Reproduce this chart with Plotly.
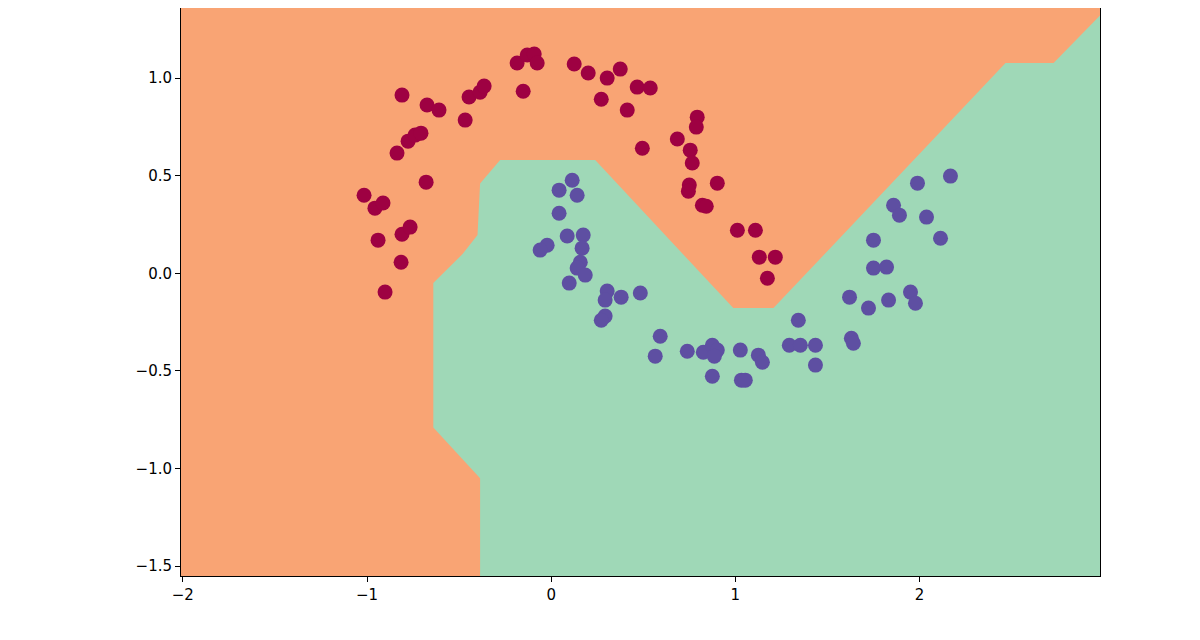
import plotly.graph_objects as go

# decision region (class 1) outline, data coordinates
region_x = [-0.386, -0.386, -0.64, -0.64, -0.48, -0.40, -0.386, -0.277, 0.239, 0.989, 1.207, 2.467, 2.728, 2.98, 2.98, -0.386]
region_y = [-1.55, -1.05, -0.79, -0.05, 0.10, 0.196, 0.46, 0.58, 0.58, -0.178, -0.178, 1.077, 1.077, 1.32, -1.55, -1.55]

red_x = [-1.016, -0.957, -0.913, -0.940, -0.810, -0.766, -0.815, -0.902, -0.837, -0.777, -0.739, -0.707,
         -0.674, -0.609, -0.679, -0.467, -0.446, -0.386, -0.364, -0.152, -0.185, -0.130, -0.092, -0.076, 0.125,
         0.201, 0.304, 0.375, 0.272, 0.413, 0.467, 0.538, 0.495, 0.685, 0.755, 0.793, 0.788, 0.766, 0.750, 0.745,
         0.821, 0.842, 0.902, 1.011, 1.109, 1.130, 1.217, 1.174, -0.810]
red_y = [0.40, 0.334, 0.36, 0.17, 0.20, 0.237, 0.057, -0.096, 0.616, 0.677, 0.708, 0.718,
         0.862, 0.836, 0.467, 0.785, 0.903, 0.928, 0.959, 0.933, 1.077, 1.118, 1.123, 1.077, 1.072,
         1.026, 1.0, 1.046, 0.892, 0.836, 0.954, 0.949, 0.641, 0.688, 0.631, 0.80, 0.749, 0.565, 0.452, 0.421,
         0.349, 0.344, 0.462, 0.221, 0.221, 0.083, 0.083, -0.025, 0.913]

blue_x = [0.043, 0.043, 0.114, 0.141, -0.022, -0.060, 0.087, 0.174, 0.168, 0.158, 0.141, 0.185, 0.098, 0.304,
          0.380, 0.484, 0.293, 0.293, 0.272, 0.592, 0.565, 0.739, 0.826, 0.875, 0.902, 0.886, 0.875, 1.033,
          1.054, 1.027, 1.125, 1.147, 1.342, 1.293, 1.353, 1.435, 1.435, 1.620, 1.630, 1.641, 1.723, 1.750,
          1.750, 1.821, 1.832, 1.859, 1.891, 1.951, 1.978, 1.989, 2.038, 2.114, 2.168]
blue_y = [0.426, 0.308, 0.477, 0.40, 0.144, 0.119, 0.191, 0.196, 0.129, 0.057, 0.027, -0.009, -0.050, -0.091,
          -0.122, -0.101, -0.137, -0.219, -0.240, -0.322, -0.424, -0.399, -0.404, -0.368, -0.393, -0.424, -0.527, -0.547,
          -0.547, -0.393, -0.419, -0.455, -0.240, -0.368, -0.368, -0.368, -0.470, -0.122, -0.332, -0.358, -0.178, 0.170,
          0.027, 0.032, -0.137, 0.349, 0.298, -0.096, -0.153, 0.462, 0.288, 0.180, 0.498]

x_ticks = [-2, -1, 0, 1, 2]
y_ticks = [-1.5, -1.0, -0.5, 0.0, 0.5, 1.0]

fig = go.Figure()
fig.add_trace(go.Scatter(x=region_x, y=region_y, fill="toself", fillcolor="#9fd8b7",
                         line=dict(width=0), mode="lines", hoverinfo="skip"))
fig.add_trace(go.Scatter(x=red_x, y=red_y, mode="markers",
                         marker=dict(color="#9e0142", size=15, line=dict(width=0))))
fig.add_trace(go.Scatter(x=blue_x, y=blue_y, mode="markers",
                         marker=dict(color="#5e4fa2", size=15, line=dict(width=0))))

axis_style = dict(showgrid=False, zeroline=False, showline=True, linecolor="black", linewidth=1,
                  mirror=True, ticks="outside", ticklen=5, tickcolor="black",
                  tickfont=dict(family="DejaVu Sans", size=15, color="black"))
fig.update_xaxes(range=[-2.01, 2.98], tickvals=x_ticks, ticktext=[str(v).replace("-", "−") for v in x_ticks], **axis_style)
fig.update_yaxes(range=[-1.55, 1.359], tickvals=y_ticks, ticktext=[f"{v:.1f}".replace("-", "−") for v in y_ticks], **axis_style)
fig.update_layout(width=1200, height=640, showlegend=False, plot_bgcolor="#f9a474", paper_bgcolor="white",
                  margin=dict(l=173, r=108, t=0, b=72))
fig.write_html("out.html")
